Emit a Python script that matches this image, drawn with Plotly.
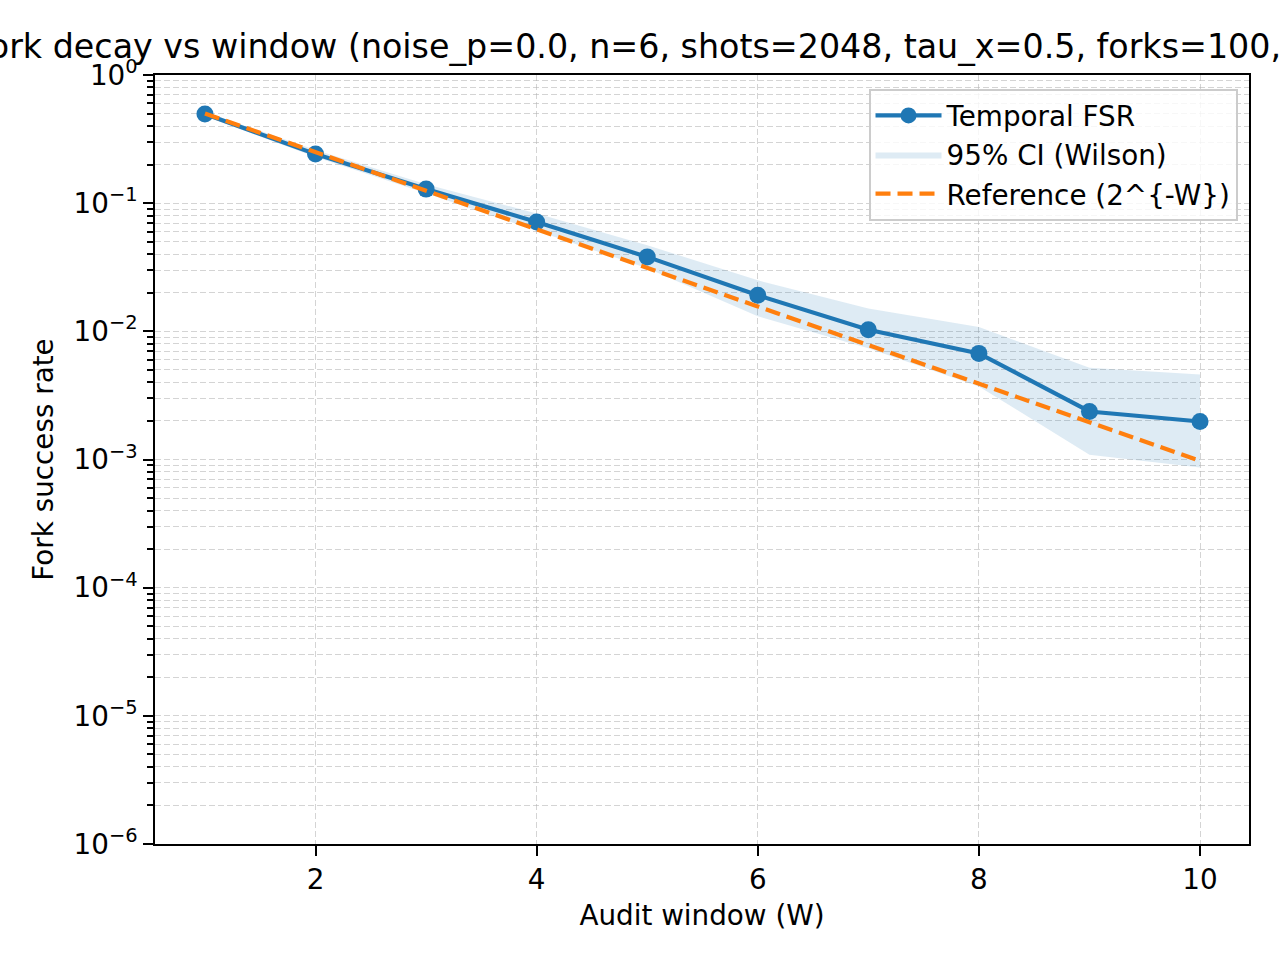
import plotly.graph_objects as go

# ---- data ----
windows = [1, 2, 3, 4, 5, 6, 7, 8, 9, 10]
fsr = [0.496, 0.2414, 0.1287, 0.0714, 0.0381, 0.0191, 0.0103, 0.00673, 0.00237, 0.00198]
ci_low = [0.48, 0.2288, 0.1197, 0.0608, 0.031, 0.0131, 0.00737, 0.00372, 0.00109, 0.000866]
ci_high = [0.515, 0.2596, 0.1407, 0.0831, 0.047, 0.025, 0.0151, 0.0108, 0.0052, 0.00461]
reference = [0.5, 0.25, 0.125, 0.0625, 0.03125, 0.015625, 0.0078125,
             0.00390625, 0.001953125, 0.0009765625]

y_major = [1e-6, 1e-5, 1e-4, 1e-3, 1e-2, 1e-1, 1e0]
y_major_text = ["10<sup>−6</sup>", "10<sup>−5</sup>", "10<sup>−4</sup>", "10<sup>−3</sup>",
                "10<sup>−2</sup>", "10<sup>−1</sup>", "10<sup>0</sup>"]
y_minor = [m * 10.0 ** e for e in range(-6, 0) for m in range(2, 10)]
x_ticks = [2, 4, 6, 8, 10]

title_text = ("Fork decay vs window (noise_p=0.0, n=6, shots=2048, "
              "tau_x=0.5, forks=100, seed=0)")

BLUE = "#1f77b4"
ORANGE = "#ff7f0e"
FONT = "DejaVu Sans"
GRID = "rgba(176,176,176,0.55)"

fig = go.Figure()

fig.add_trace(go.Scatter(
    x=windows, y=ci_low, mode="lines", line=dict(width=0, color=BLUE),
    showlegend=False, hoverinfo="skip"))
fig.add_trace(go.Scatter(
    x=windows, y=ci_high, mode="lines", line=dict(width=0, color=BLUE),
    fill="tonexty", fillcolor="rgba(31,119,180,0.15)",
    name="95% CI (Wilson)", legendrank=2))
fig.add_trace(go.Scatter(
    x=windows, y=fsr, mode="lines+markers",
    line=dict(color=BLUE, width=4.2),
    marker=dict(color=BLUE, size=17),
    name="Temporal FSR", legendrank=1))
fig.add_trace(go.Scatter(
    x=windows, y=reference, mode="lines",
    line=dict(color=ORANGE, width=4.2, dash="15px,7px"),
    name="Reference (2^{-W})", legendrank=3))

fig.update_layout(
    width=1280, height=960,
    paper_bgcolor="white", plot_bgcolor="white",
    margin=dict(l=155, r=31, t=75, b=116),
    font=dict(family=FONT, size=27.8, color="black"),
    title=dict(text=title_text, x=0.5, xref="paper", xanchor="center",
               y=1 - 46 / 960, yref="container", yanchor="middle",
               font=dict(family=FONT, size=33.3, color="black")),
    showlegend=True,
    legend=dict(x=0.9895, xanchor="right", y=0.982, yanchor="top",
                traceorder="normal",
                bgcolor="rgba(255,255,255,0.8)", bordercolor="#cccccc",
                borderwidth=2, font=dict(family=FONT, size=27.8),
                itemwidth=66, tracegroupgap=0),
)

fig.update_xaxes(
    range=[0.548, 10.443], tickvals=x_ticks,
    showline=True, mirror=True, linecolor="black", linewidth=2.2,
    ticks="outside", ticklen=9.7, tickwidth=2.2, tickcolor="black",
    showgrid=True, gridcolor=GRID, gridwidth=1.1, griddash="6px,3px",
    zeroline=False,
    title=dict(text="Audit window (W)", standoff=10,
               font=dict(family=FONT, size=27.8)),
)

fig.update_yaxes(
    type="log", range=[-6, 0], tickvals=y_major, ticktext=y_major_text,
    showline=True, mirror=True, linecolor="black", linewidth=2.2,
    ticks="outside", ticklen=9.7, tickwidth=2.2, tickcolor="black",
    showgrid=True, gridcolor=GRID, gridwidth=1.1, griddash="6px,3px",
    zeroline=False,
    minor=dict(tickvals=y_minor, ticks="outside", ticklen=5.6, tickwidth=1.7,
               tickcolor="black", showgrid=True, gridcolor=GRID, gridwidth=1.1,
               griddash="6px,3px"),
    title=dict(text="Fork success rate", standoff=12,
               font=dict(family=FONT, size=27.8)),
)

fig.write_html("out.html",
               config={"displayModeBar": False},
               post_script="document.body.style.margin='0px';"
                           "document.body.style.overflow='hidden';")
